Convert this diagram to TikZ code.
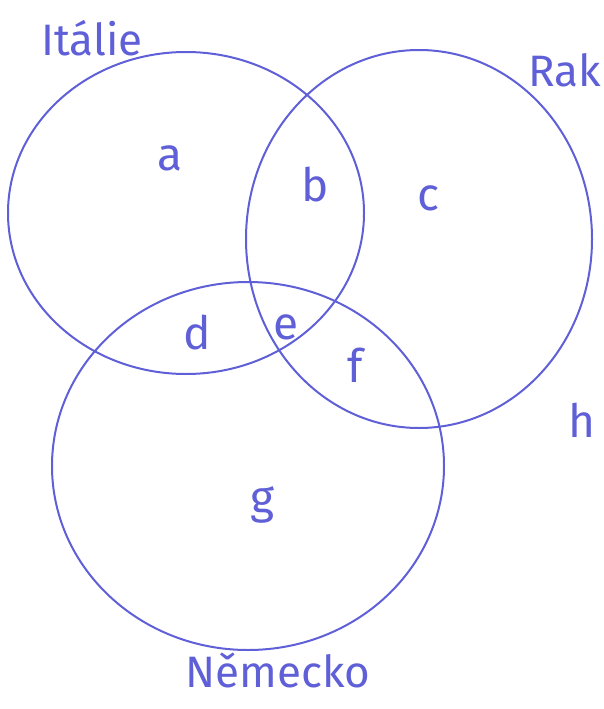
\documentclass[tikz,border=0pt]{standalone}
\usepackage{fontspec}
\setmainfont{Fira Sans}
\begin{document}
\begin{tikzpicture}[x=1pt,y=-1pt,
  pen/.style={draw=penblue,line width=2pt},
  lbl/.style={text=penblue,font=\fontsize{46}{52}\selectfont,inner sep=0pt},
  ttl/.style={text=penblue,font=\fontsize{44}{50}\selectfont,inner sep=0pt}]
\definecolor{penblue}{RGB}{95,95,215}
\useasboundingbox (0,0) rectangle (604,709);
\draw[pen] (186,213) ellipse [x radius=178,y radius=161];
\draw[pen] (419,239) ellipse [x radius=173,y radius=189];
\draw[pen] (248,466) ellipse [x radius=196,y radius=184];
\node[lbl] (a) at (170,158) {a};
\node[lbl] (b) at (315,185) {b};
\node[lbl] (c) at (428,198) {c};
\node[lbl] (d) at (197,333) {d};
\node[lbl] (e) at (286,327) {e};
\node[lbl] (f) at (355,365) {f};
\node[lbl] (g) at (262,505) {g};
\node[lbl] (h) at (582,420) {h};
\node[ttl] (it) at (92,38) {Itálie};
\node[ttl,anchor=east] (ra) at (601,70) {Rak};
\node[ttl] (ne) at (278,670) {Německo};
\end{tikzpicture}
\end{document}
